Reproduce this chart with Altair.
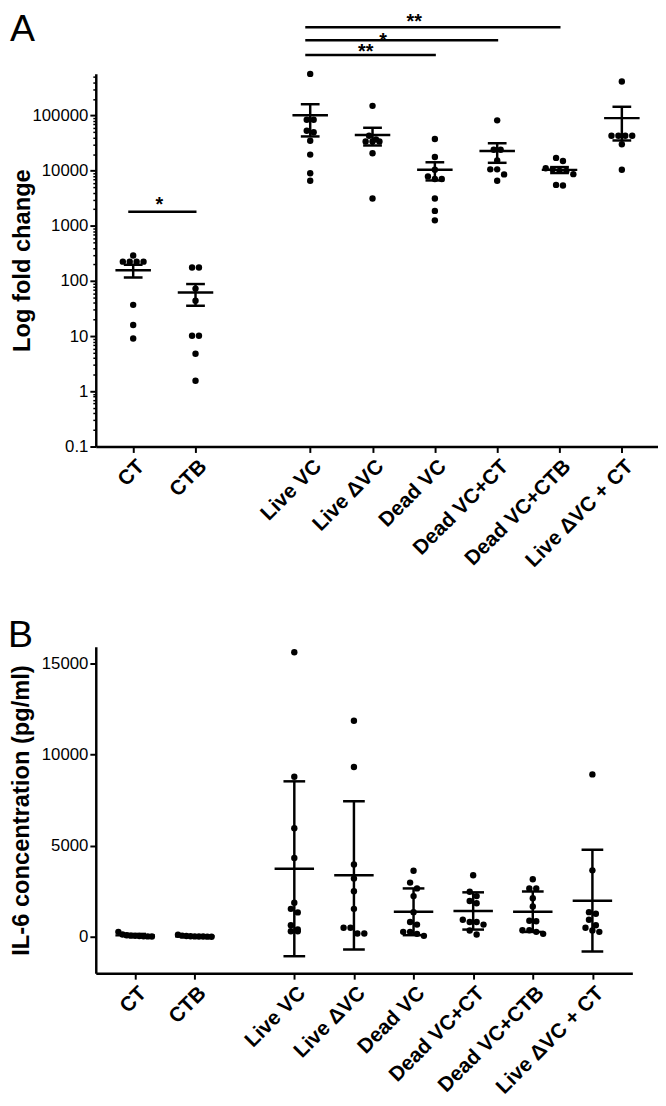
import altair as alt
import pandas as pd
import math

# ---------------- data ----------------
groups = ["CT", "CTB", "Live VC", "Live ΔVC", "Dead VC", "Dead VC+CT", "Dead VC+CTB", "Live ΔVC + CT"]

# Panel A: log fold change (mean ± SEM)
a_ct = [225, 225, 225, 225, 291, 37, 16, 9.1]
a_ctb = [176, 176, 73, 44, 10.2, 10.2, 4.8, 1.56]
a_live_vc = [570000, 84000, 84000, 53000, 50000, 35000, 19600, 9000, 6600]
a_live_dvc = [150000, 43200, 37000, 33800, 33800, 33800, 20700, 3130]
a_dead_vc = [37600, 17800, 10400, 7900, 7080, 7080, 3130, 1870, 1260]
a_dead_vc_ct = [82000, 24000, 24000, 15300, 10600, 10600, 8580, 6600]
a_dead_vc_ctb = [17100, 15000, 11070, 10600, 9960, 9960, 8670, 5540, 5400]
a_live_dvc_ct = [416000, 43200, 43200, 43200, 43200, 30300, 10400]
a_values = [a_ct, a_ctb, a_live_vc, a_live_dvc, a_dead_vc, a_dead_vc_ct, a_dead_vc_ctb, a_live_dvc_ct]

# Panel B: IL-6 concentration (mean ± SD)
b_ct = [10, 20, 30, 40, 50, 60, 80, 120, 270]
b_ctb = [0, 5, 10, 15, 20, 30, 40, 60, 110]
b_live_vc = [15600, 8770, 5945, 4320, 1870, 1530, 1335, 630, 395, 300, 300]
b_live_dvc = [11840, 9310, 3960, 3190, 2500, 1530, 490, 490, 180, 180]
b_dead_vc = [3620, 2970, 2650, 2230, 1350, 810, 665, 270, 270, 160, 50]
b_dead_vc_ct = [3370, 2470, 2230, 1960, 1840, 935, 810, 810, 665, 340, 125]
b_dead_vc_ctb = [3150, 2650, 2650, 2110, 1660, 880, 850, 360, 360, 270, 160]
b_live_dvc_ct = [8900, 3640, 1350, 1260, 935, 630, 490, 340, 270]
b_values = [b_ct, b_ctb, b_live_vc, b_live_dvc, b_dead_vc, b_dead_vc_ct, b_dead_vc_ctb, b_live_dvc_ct]

# significance comparisons in panel A
sig_from = ["CT", "Live VC", "Live VC", "Live VC"]
sig_to = ["CTB", "Dead VC", "Dead VC+CT", "Dead VC+CTB"]
sig_label = ["*", "**", "*", "**"]

a_major_ticks = [0.1, 1, 10, 100, 1000, 10000, 100000]
b_major_ticks = [0, 5000, 10000, 15000]

# ---------------- layout ----------------
FONT = "Liberation Sans"
A_W, A_H = 570, 378
B_W, B_H = 544, 331
A_POS = [0, 1, 2.84, 3.84, 4.84, 5.84, 6.84, 7.84]
A_XDOM = [-0.60, 8.42]
B_POS = [0, 1, 2.67, 3.67, 4.67, 5.67, 6.67, 7.67]
B_XDOM = [-0.66, 8.34]
A_YDOM = [0.1, 575000]
B_YDOM = [-2000, 15900]
DOT = 7.0
SIG_LINE_Y = [140, -19, -34, -47]      # px relative to plot top
SIG_TEXT_Y = [139, -16, -27, -46]
SIG_TEXT_DX = [-5, -7, -21, -21]


def ypix_log(v):
    lo, hi = math.log10(A_YDOM[0]), math.log10(A_YDOM[1])
    return A_H * (hi - math.log10(v)) / (hi - lo)


def ypix_lin(v):
    return B_H * (B_YDOM[1] - v) / (B_YDOM[1] - B_YDOM[0])


def swarm(values, ypix, d=DOT, maxw=34.0):
    order = sorted(range(len(values)), key=lambda i: ypix(values[i]))
    clusters = []
    for i in order:
        y = ypix(values[i])
        if clusters and abs(y - clusters[-1][0]) < d * 0.85:
            clusters[-1][1].append(i)
        else:
            clusters.append([y, [i]])
    offs = [0.0] * len(values)
    for _, members in clusters:
        n = len(members)
        step = d if n < 2 else min(d, maxw / (n - 1))
        for k, i in enumerate(members):
            offs[i] = (k - (n - 1) / 2) * step
    return offs


def build(values, pos, xdom, w, ypix):
    ppu = w / (xdom[1] - xdom[0])
    rows = []
    for g, vals, p in zip(groups, values, pos):
        for v, o in zip(vals, swarm(vals, ypix)):
            rows.append({"group": g, "pos": p, "x": p + o / ppu, "value": v})
    return pd.DataFrame(rows)


def label_expr(pos):
    expr = "''"
    for p, g in reversed(list(zip(pos, groups))):
        expr = f"abs(datum.value - {p}) < 0.01 ? '{g}' : ({expr})"
    return expr


def x_axis(pos):
    return alt.Axis(values=pos, labelExpr=label_expr(pos), title=None, labelAngle=315,
                    labelFontSize=21, labelFontWeight="bold", labelFont=FONT, labelColor="black",
                    labelOverlap=False, labelBound=False, labelFlush=False,
                    tickSize=6, tickWidth=2, tickColor="black", domainWidth=2.5, domainColor="black",
                    grid=False, labelPadding=3, orient="bottom")


def panel(values, pos, xdom, w, h, ydom, ypix, log, err_op, mean_w, cap_w,
          ytitle, ticks, fmt, title_pad, letter, letter_x, letter_y):
    df = build(values, pos, xdom, w, ypix)
    xs = alt.Scale(domain=xdom, nice=False, zero=False)
    ys = alt.Scale(domain=ydom, nice=False, zero=False, type="log" if log else "linear")
    base = alt.Chart(df)

    yax = alt.Axis(values=ticks, format=fmt, title=ytitle, titleFontSize=24, titleFontWeight="bold",
                   titleFont=FONT, titleColor="black", titlePadding=title_pad,
                   labelFontSize=17, labelFont=FONT, labelColor="black", labelPadding=2,
                   labelOverlap=False, labelFlush=False,
                   tickSize=6, tickWidth=2, tickColor="black", domainWidth=2.5,
                   domainColor="black", grid=False, orient="left")

    dots = base.mark_circle(size=42, color="black", opacity=1).encode(
        x=alt.X("x:Q", scale=xs, axis=x_axis(pos)),
        y=alt.Y("value:Q", scale=ys, axis=yax),
    )

    summ = base.transform_aggregate(
        m="mean(value)", e=f"{err_op}(value)", groupby=["group", "pos"]
    ).transform_calculate(lo="datum.m - datum.e", hi="datum.m + datum.e")

    err = summ.mark_rule(color="black", strokeWidth=2.5).encode(
        x=alt.X("pos:Q", axis=None), y=alt.Y("lo:Q", axis=None), y2="hi:Q")
    cap_lo = summ.mark_tick(orient="horizontal", size=cap_w, thickness=2.5, color="black", opacity=1).encode(
        x=alt.X("pos:Q", axis=None), y=alt.Y("lo:Q", axis=None))
    cap_hi = summ.mark_tick(orient="horizontal", size=cap_w, thickness=2.5, color="black", opacity=1).encode(
        x=alt.X("pos:Q", axis=None), y=alt.Y("hi:Q", axis=None))
    mean = summ.mark_tick(orient="horizontal", size=mean_w, thickness=2.5, color="black", opacity=1).encode(
        x=alt.X("pos:Q", axis=None), y=alt.Y("m:Q", axis=None))

    letter_df = pd.DataFrame({"t": [letter]})
    let = alt.Chart(letter_df).mark_text(fontSize=38, font=FONT, align="left", baseline="alphabetic",
                                         color="black").encode(
        text="t:N", x=alt.value(letter_x), y=alt.value(letter_y))

    layers = [dots, err, cap_lo, cap_hi, mean, let]

    if log:
        minor_vals = [k * 10 ** e for e in range(-1, 6) for k in range(2, 10) if k * 10 ** e <= ydom[1]]
        minor = base.mark_circle(opacity=0).encode(
            x=alt.X("x:Q", axis=None),
            y=alt.Y("value:Q", axis=alt.Axis(values=minor_vals, labels=False, title=None, domain=False,
                                              tickSize=3, tickWidth=1.5, tickColor="black",
                                              grid=False, orient="left")),
        )
        layers.insert(0, minor)

    return layers, df


# ---------------- panel A ----------------
a_layers, a_df = panel(a_values, A_POS, A_XDOM, A_W, A_H, A_YDOM, ypix_log, True, "stderr", 36, 19,
                       "Log fold change", a_major_ticks, "~r", -3, "A", -87, -33)

ppu_a = A_W / (A_XDOM[1] - A_XDOM[0])
pmap = dict(zip(groups, A_POS))
sig_df = pd.DataFrame({
    "x1": [pmap[f] - 5 / ppu_a for f in sig_from],
    "x2": [pmap[t] + 1 / ppu_a for t in sig_to],
    "xm": [(pmap[f] + pmap[t]) / 2 + dx / ppu_a for f, t, dx in zip(sig_from, sig_to, SIG_TEXT_DX)],
    "ly": SIG_LINE_Y,
    "ty": SIG_TEXT_Y,
    "lab": sig_label,
})
sig_lines = alt.Chart(sig_df).mark_rule(color="black", strokeWidth=2.5).encode(
    x=alt.X("x1:Q", axis=None), x2="x2:Q", y=alt.Y("ly:Q", scale=None))
sig_text = alt.Chart(sig_df).mark_text(fontSize=20, fontWeight="bold", font=FONT, baseline="alphabetic",
                                       align="center", color="black").encode(
    x=alt.X("xm:Q", axis=None), y=alt.Y("ty:Q", scale=None), text="lab:N")

chart_a = alt.layer(*a_layers, sig_lines, sig_text).resolve_axis(
    x="independent", y="independent").properties(width=A_W, height=A_H)

# ---------------- panel B ----------------
b_layers, b_df = panel(b_values, B_POS, B_XDOM, B_W, B_H, B_YDOM, ypix_lin, False, "stdev", 40, 22,
                       "IL-6 concentration (pg/ml)", b_major_ticks, "d", 8, "B", -89, 0)
chart_b = alt.layer(*b_layers).resolve_axis(
    x="independent", y="independent").properties(width=B_W, height=B_H)

chart = alt.vconcat(chart_a, chart_b, spacing=47).properties(
    padding={"left": 0, "top": -4, "right": 0, "bottom": 0}
).configure_view(stroke=None).configure_axis(labelFont=FONT, titleFont=FONT)

chart.save("out.html", embed_options={"renderer": "svg", "actions": False})
